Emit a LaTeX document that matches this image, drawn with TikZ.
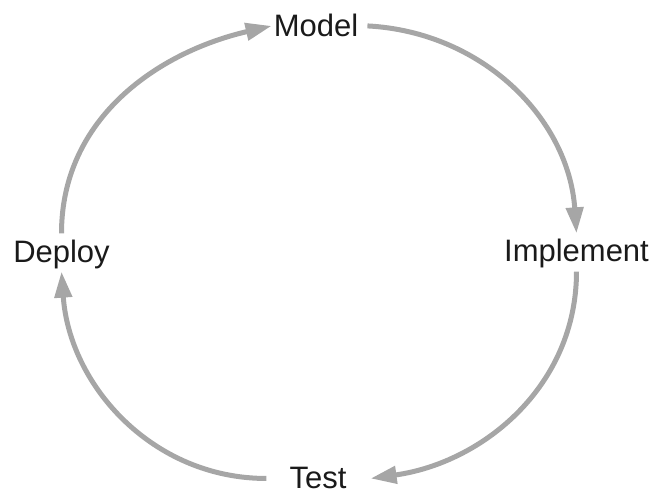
\documentclass[tikz,border=0pt]{standalone}
\usepackage{fontspec}
\setmainfont{Liberation Sans}
\usetikzlibrary{arrows.meta,calc}
\definecolor{arrowgray}{RGB}{166,166,166}
\definecolor{textdark}{RGB}{26,26,26}
\begin{document}
\begin{tikzpicture}[x=1pt,y=1pt,
  lbl/.style={inner sep=0pt, anchor=base, text=textdark, font=\fontsize{31}{37}\selectfont},
  flow/.style={draw=arrowgray, line width=5pt, -{Triangle[length=26pt,width=17pt]}}]
\useasboundingbox (0,0) rectangle (654,494);
\node[lbl] (model) at (316,457) {Model};
\node[lbl] (implement) at (576.5,232) {Implement};
\node[lbl] (deploy) at (61.5,231) {Deploy};
\node[lbl] (test) at (318,5) {Test};
\draw[flow] ([xshift=9pt]model.east) to[out=-3,in=94] ([yshift=6pt]implement.north);
\draw[flow] ([yshift=-3pt]implement.south) to[out=-90,in=8] ([xshift=24pt]test.east);
\draw[flow] ([xshift=-23pt]test.west) to[out=180,in=-86] ([yshift=-2pt]deploy.south);
\draw[flow] ([yshift=7pt]deploy.north) to[out=90,in=193] ([xshift=-2pt]model.west);
\end{tikzpicture}
\end{document}
